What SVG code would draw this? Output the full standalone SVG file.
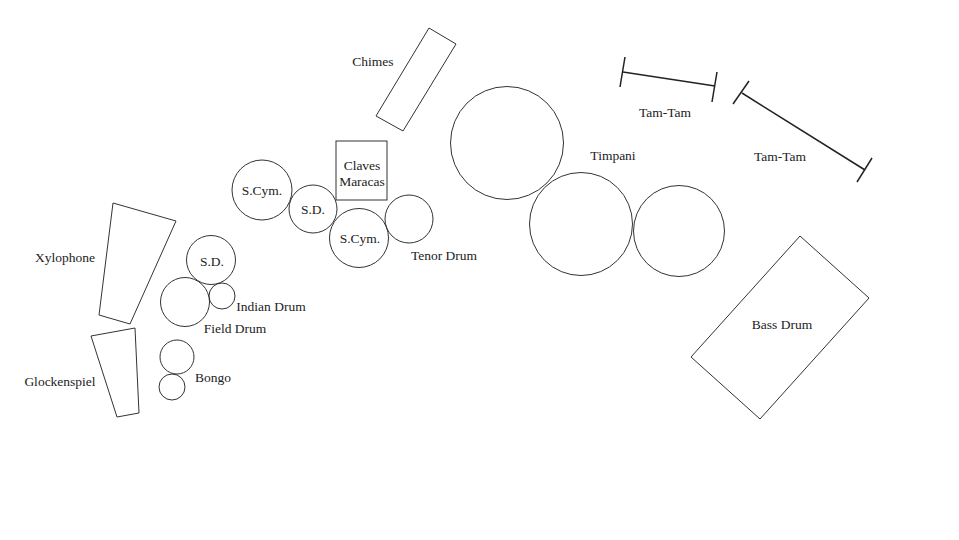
<svg xmlns="http://www.w3.org/2000/svg" width="959" height="540" viewBox="0 0 959 540">
<style>
.s{fill:none;stroke:#333;stroke-width:1}
.t{stroke:#222;stroke-width:1.5;fill:none}
text{font-family:"Liberation Serif","DejaVu Serif",serif;font-size:13.5px;fill:#222;text-anchor:middle}
</style>
<rect width="959" height="540" fill="#fff"/>
<g id="xylophone"><polygon class="s" points="113,203 176,221 130,324 99,315"/><text x="65" y="262">Xylophone</text></g>
<g id="glockenspiel"><polygon class="s" points="91,336 135,328 139,413 117,417"/><text x="60" y="386">Glockenspiel</text></g>
<g id="sd1"><circle class="s" cx="211" cy="260" r="24.5"/><text x="212" y="266">S.D.</text></g>
<g id="field-drum"><circle class="s" cx="185" cy="302" r="24.5"/><text x="235" y="333">Field Drum</text></g>
<g id="indian-drum"><circle class="s" cx="222" cy="296" r="13"/><text x="271" y="311">Indian Drum</text></g>
<g id="bongo"><circle class="s" cx="177" cy="357" r="17"/><circle class="s" cx="172" cy="387" r="13"/><text x="213" y="382">Bongo</text></g>
<g id="scym1"><circle class="s" cx="262" cy="190" r="30"/><text x="262" y="195">S.Cym.</text></g>
<g id="sd2"><circle class="s" cx="313" cy="209" r="24"/><text x="313" y="214">S.D.</text></g>
<g id="scym2"><circle class="s" cx="359" cy="238" r="29.5"/><text x="360" y="243">S.Cym.</text></g>
<g id="tenor-drum"><circle class="s" cx="409" cy="219" r="24"/><text x="444" y="260">Tenor Drum</text></g>
<g id="claves"><rect class="s" x="336" y="141" width="51" height="59"/><text x="362" y="170">Claves</text><text x="362" y="186">Maracas</text></g>
<g id="chimes"><polygon class="s" points="429,28 456,44 403,131 376,116"/><text x="373" y="66">Chimes</text></g>
<g id="timpani"><circle class="s" cx="507" cy="143" r="56.5"/><circle class="s" cx="581" cy="224" r="51.5"/><circle class="s" cx="679" cy="231" r="45.5"/><text x="613" y="160">Timpani</text></g>
<g id="tamtam1"><line class="t" x1="623" y1="72" x2="715" y2="86"/><line class="t" x1="620" y1="87" x2="625" y2="57"/><line class="t" x1="712" y1="102" x2="717" y2="72"/><text x="665" y="117">Tam-Tam</text></g>
<g id="tamtam2"><line class="t" x1="742" y1="93" x2="865" y2="170"/><line class="t" x1="733" y1="104" x2="749" y2="81"/><line class="t" x1="857" y1="182" x2="872" y2="158"/><text x="780" y="161">Tam-Tam</text></g>
<g id="bass-drum"><polygon class="s" points="800,236 869,298 760,419 691,357"/><text x="782" y="329">Bass Drum</text></g>
<g id="connectors"></g>
</svg>
